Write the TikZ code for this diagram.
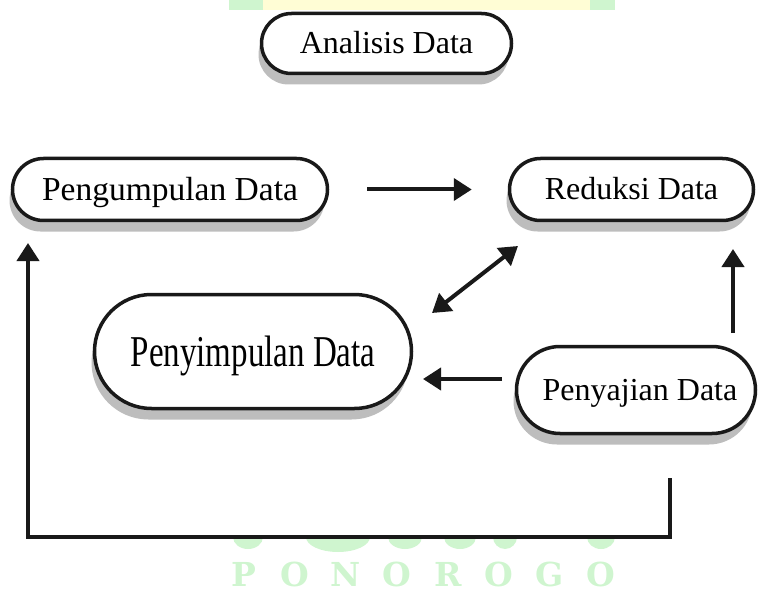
\documentclass[tikz,border=0pt]{standalone}
\usepackage{fontspec}
\setmainfont{Liberation Serif}
\newfontfamily\sempit[FakeStretch=0.75]{Liberation Serif}
\newfontfamily\tandaair{DejaVu Serif}
\usetikzlibrary{shapes.misc,shadows,arrows.meta}
\definecolor{hijaumuda}{HTML}{CFF5CF}
\definecolor{kuningmuda}{HTML}{FFFDD5}
\definecolor{bayang}{HTML}{BDBDBD}

\tikzset{
  kotak/.style={rounded rectangle, draw=black!90, line width=3.5pt, fill=white,
    inner sep=0pt, text height=21pt, text depth=0pt,
    drop shadow={shadow xshift=-3pt, shadow yshift=-11pt, fill=bayang, opacity=1}},
  panah/.style={line width=4pt, black!90, -{Triangle[length=18pt,width=22pt]}},
  panahdua/.style={line width=4pt, black!90, {Triangle[length=18pt,width=22pt]}-{Triangle[length=18pt,width=22pt]}},
  huruf/.style={text=hijaumuda, inner sep=0pt, text height=24pt, text depth=0pt,
    font=\tandaair\bfseries\fontsize{33}{33}\selectfont}
}

\begin{document}
\begin{tikzpicture}[x=1pt,y=-1pt]
  \useasboundingbox (0,0) rectangle (761,591);
  % watermark
  \fill[hijaumuda] (229,0) rectangle (263,10);
  \fill[kuningmuda] (263,0) rectangle (590,10);
  \fill[hijaumuda] (590,0) rectangle (615,10);
  \begin{scope}
    \clip (0,539) rectangle (761,560);
    \foreach \cx/\rx/\ry in {248/15/12, 338/32/15, 405/17/12, 460/16/12, 505/12/12, 601/14/12}
      \fill[hijaumuda] (\cx,537) ellipse [x radius=\rx, y radius=\ry];
  \end{scope}
  \foreach \h [count=\i from 0] in {P,O,N,O,R,O,G,O}
    \node[huruf] (wm\i) at (244+51*\i,574) {\h};

  % boxes
  \node[kotak, minimum width=250pt, minimum height=60pt, font=\fontsize{32}{38}\selectfont] (analisis) at (386.5,43.5) {Analisis Data};
  \node[kotak, minimum width=315pt, minimum height=62pt, text height=22pt, font=\fontsize{33.5}{40}\selectfont] (pengumpulan) at (170,189.5) {Pengumpulan Data};
  \node[kotak, minimum width=244pt, minimum height=62pt, font=\fontsize{32}{38}\selectfont] (reduksi) at (631.5,189.5) {Reduksi Data};
  \node[kotak, minimum width=317pt, minimum height=114pt, text height=29pt, font=\sempit\fontsize{44}{50}\selectfont] (penyimpulan) at (253,351.5) {Penyimpulan Data};
  \node[kotak, minimum width=239pt, minimum height=87pt, font=\fontsize{32}{38}\selectfont] (penyajian) at (636,390) {\hspace{8pt}Penyajian Data};

  % free ends
  \coordinate (dua1) at (432,313);
  \coordinate (dua2) at (518,246);
  \coordinate (saji1) at (502,379);
  \coordinate (simpul1) at (423,379);
  \coordinate (saji2) at (733,333);
  \coordinate (reduksi1) at (733,249);
  \coordinate (balik1) at (670,478);
  \coordinate (balik2) at (28,243);

  % arrows
  \draw[panah] ([xshift=38pt]pengumpulan.east) -- ([xshift=-36pt]reduksi.west);
  \draw[panahdua] (dua1) -- (dua2);
  \draw[panah] (saji1) -- (simpul1);
  \draw[panah] (saji2) -- (reduksi1);
  \draw[panah] (balik1) -- ++(0,59) -| (balik2);
\end{tikzpicture}
\end{document}
